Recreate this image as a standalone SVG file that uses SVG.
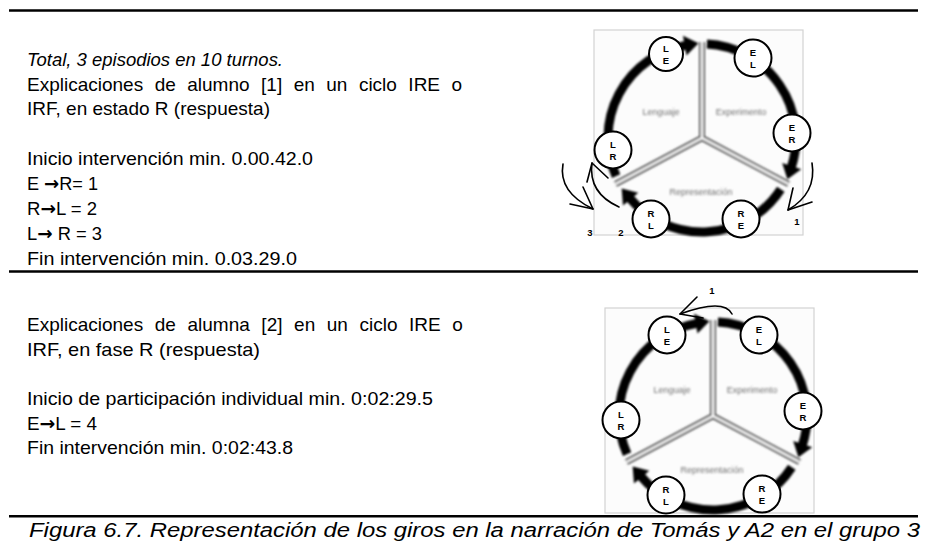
<svg xmlns="http://www.w3.org/2000/svg" width="927" height="547" viewBox="0 0 927 547">
<style>
.txt{font-family:"Liberation Sans",Arial,sans-serif;font-size:19px;fill:#000}
.it{font-style:italic}
.ar{font-family:"DejaVu Sans",sans-serif;font-weight:bold}
.rule{stroke:#000;stroke-width:2.5}
.node circle{fill:#fff;stroke:#000;stroke-width:2}
.node text{font-family:"Liberation Sans",Arial,sans-serif;font-size:9.5px;font-weight:bold;text-anchor:middle;fill:#000}
.num{font-family:"Liberation Sans",Arial,sans-serif;font-size:9.5px;font-weight:bold;text-anchor:middle;fill:#000}
.conn path,.conn polyline{fill:none;stroke:#000;stroke-width:1.6;stroke-linecap:round;stroke-linejoin:round}
.ring{fill:none;stroke:#000;stroke-width:9}
.lab{font-family:"Liberation Sans",Arial,sans-serif;font-size:9px;fill:#707070;text-anchor:middle}
</style>
<defs>
<filter id="soft" x="-10%" y="-10%" width="120%" height="120%"><feGaussianBlur stdDeviation="0.9"/></filter>
<marker id="rh" markerUnits="userSpaceOnUse" markerWidth="18" markerHeight="24" refX="1" refY="11" orient="auto" overflow="visible"><path d="M0,1 L14,11 L0,21 z" fill="#000"/></marker>
<g id="cycle">
<rect x="594" y="30" width="209" height="205" fill="#fcfcfc" stroke="#d2d2d2" stroke-width="1.2"/>
<g filter="url(#soft)">
<path d="M702,138 V42 M702,138 L615.5,184 M702,138 L788.5,184" fill="none" stroke="#4a4a4a" stroke-width="6"/>
<path d="M702,138 V42 M702,138 L615.5,184 M702,138 L788.5,184" fill="none" stroke="#fff" stroke-width="2.4"/>
<path class="ring" marker-end="url(#rh)" d="M706.9,44.1 A94,94 0 0 1 791.4,167"/>
<path class="ring" marker-end="url(#rh)" d="M780.8,189.2 A94,94 0 0 1 630,198.4"/>
<path class="ring" marker-end="url(#rh)" d="M616.1,176.2 A94,94 0 0 1 685.7,45.4"/>
<text class="lab" x="661" y="115">Lenguaje</text>
<text class="lab" x="741" y="115">Experimento</text>
<text class="lab" x="701" y="195">Representación</text>
</g>
</g>
</defs>

<g id="rules">
<line class="rule" x1="9" y1="10.5" x2="918" y2="10.5"/>
<line class="rule" x1="9" y1="271.5" x2="918" y2="271.5"/>
<line class="rule" x1="9" y1="516.3" x2="918" y2="516.3"/>
</g>

<g id="text-top">
<text class="txt it" x="27" y="66" textLength="256" lengthAdjust="spacingAndGlyphs">Total, 3 episodios en 10 turnos.</text>
<text class="txt" x="27" y="91" word-spacing="6.2">Explicaciones de alumno [1] en un ciclo IRE o</text>
<text class="txt" x="27" y="115" textLength="243" lengthAdjust="spacingAndGlyphs">IRF, en estado R (respuesta)</text>
<text class="txt" x="27" y="165" textLength="286" lengthAdjust="spacingAndGlyphs">Inicio intervención min. 0.00.42.0</text>
<text class="txt" x="27" y="190" textLength="71" lengthAdjust="spacingAndGlyphs">E <tspan class="ar">→</tspan>R= 1</text>
<text class="txt" x="27" y="215" textLength="70" lengthAdjust="spacingAndGlyphs">R<tspan class="ar">→</tspan>L = 2</text>
<text class="txt" x="27" y="240" textLength="75" lengthAdjust="spacingAndGlyphs">L<tspan class="ar">→</tspan> R = 3</text>
<text class="txt" x="27" y="265" textLength="270" lengthAdjust="spacingAndGlyphs">Fin intervención min. 0.03.29.0</text>
</g>

<g id="text-bottom">
<text class="txt" x="27" y="331" word-spacing="6.3">Explicaciones de alumna [2] en un ciclo IRE o</text>
<text class="txt" x="27" y="356" textLength="233" lengthAdjust="spacingAndGlyphs">IRF, en fase R (respuesta)</text>
<text class="txt" x="27" y="405" textLength="406" lengthAdjust="spacingAndGlyphs">Inicio de participación individual min. 0:02:29.5</text>
<text class="txt" x="27" y="430" textLength="70" lengthAdjust="spacingAndGlyphs">E<tspan class="ar">→</tspan>L = 4</text>
<text class="txt" x="27" y="454" textLength="266" lengthAdjust="spacingAndGlyphs">Fin intervención min. 0:02:43.8</text>
</g>

<g id="diagram-top">
<use href="#cycle"/>
</g>
<g id="diagram-bottom">
<use href="#cycle" transform="translate(11,278)"/>
</g>

<g id="connectors" class="conn">
<path d="M812,163 Q817,193 788,210"/><polyline points="793,188 788,210 812,202"/>
<path d="M563,164 Q558,192 593,209"/><polyline points="570,204 593,209 583,187"/>
<path d="M619,207 Q588,193 592,163"/><polyline points="587,182 592,163 608,178"/>
<path d="M732,314 Q724,298 680,314"/><polyline points="697,297 680,314 703,318"/>
</g>

<g id="numbers">
<text class="num" x="797" y="225">1</text>
<text class="num" x="590" y="236">3</text>
<text class="num" x="621" y="236">2</text>
<text class="num" x="712" y="294">1</text>
</g>

<g id="t-LE" class="node"><circle cx="666" cy="54" r="17"/><text x="666" y="52">L</text><text x="666" y="63.5">E</text></g>
<g id="t-EL" class="node"><circle cx="753" cy="58" r="18.5"/><text x="753" y="56">E</text><text x="753" y="67.5">L</text></g>
<g id="t-ER" class="node"><circle cx="792" cy="133" r="18.5"/><text x="792" y="131">E</text><text x="792" y="142.5">R</text></g>
<g id="t-LR" class="node"><circle cx="613" cy="150" r="18.5"/><text x="613" y="148">L</text><text x="613" y="159.5">R</text></g>
<g id="t-RL" class="node"><circle cx="651" cy="219" r="18.5"/><text x="651" y="217">R</text><text x="651" y="228.5">L</text></g>
<g id="t-RE" class="node"><circle cx="741" cy="219" r="18.5"/><text x="741" y="217">R</text><text x="741" y="228.5">E</text></g>

<g id="b-LE" class="node"><circle cx="667" cy="335" r="18.5"/><text x="667" y="333">L</text><text x="667" y="344.5">E</text></g>
<g id="b-EL" class="node"><circle cx="759" cy="335" r="18.5"/><text x="759" y="333">E</text><text x="759" y="344.5">L</text></g>
<g id="b-ER" class="node"><circle cx="803" cy="411" r="18.5"/><text x="803" y="409">E</text><text x="803" y="420.5">R</text></g>
<g id="b-LR" class="node"><circle cx="621" cy="420" r="18.5"/><text x="621" y="418">L</text><text x="621" y="429.5">R</text></g>
<g id="b-RL" class="node"><circle cx="666" cy="495" r="18.5"/><text x="666" y="493">R</text><text x="666" y="504.5">L</text></g>
<g id="b-RE" class="node"><circle cx="762" cy="494" r="18.5"/><text x="762" y="492">R</text><text x="762" y="503.5">E</text></g>

<g id="caption">
<text class="txt it" x="29" y="537" style="font-size:20px" textLength="891" lengthAdjust="spacingAndGlyphs">Figura 6.7. Representación de los giros en la narración de Tomás y A2 en el grupo 3</text>
</g>
</svg>
